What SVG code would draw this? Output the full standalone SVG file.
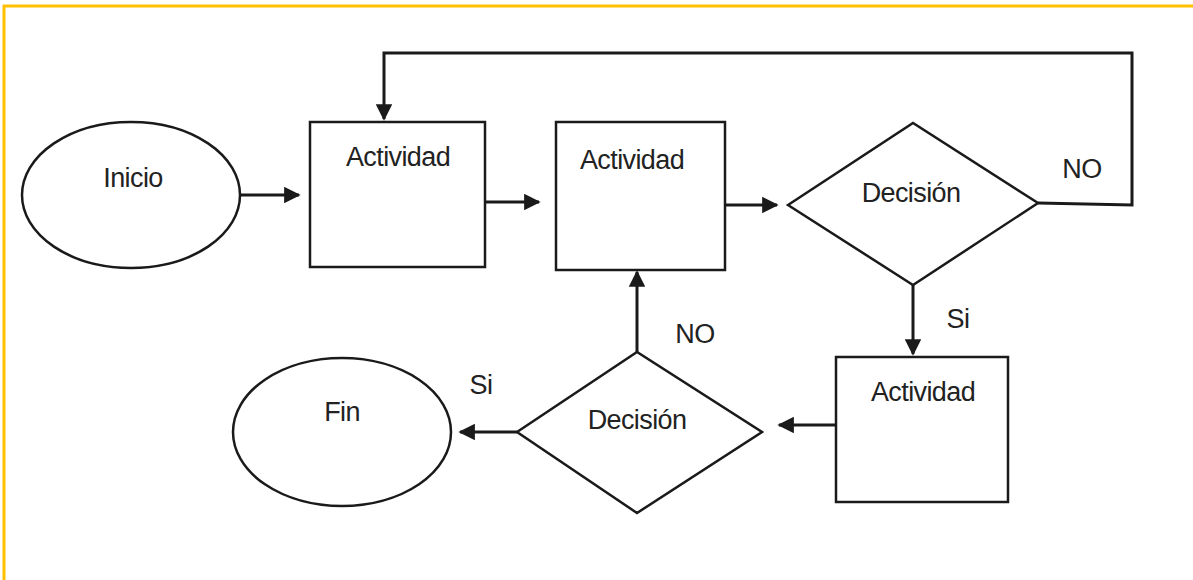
<svg xmlns="http://www.w3.org/2000/svg" width="1193" height="580" viewBox="0 0 1193 580">
  <style>
    .shape { fill: #fff; stroke: #1a1a1a; stroke-width: 2.5; }
    .edge { fill: none; stroke: #1a1a1a; stroke-width: 3; }
    .label { font-family: "Liberation Sans", Arial, sans-serif; font-size: 27px; letter-spacing: -0.6px; fill: #222; text-anchor: middle; }
  </style>
  <defs>
    <marker id="arrow" viewBox="0 0 10 10" refX="9" refY="5" markerWidth="5.5" markerHeight="5.5" orient="auto" markerUnits="strokeWidth">
      <path d="M0,0 L10,5 L0,10 z" fill="#1a1a1a"/>
    </marker>
  </defs>

  <!-- frame -->
  <rect x="4" y="6" width="1200" height="600" fill="#fff" stroke="#ffc000" stroke-width="3"/>

  <!-- connectors -->
  <g id="connectors">
    <line class="edge" x1="241" y1="195" x2="299" y2="195" marker-end="url(#arrow)"/>
    <line class="edge" x1="485" y1="202" x2="539" y2="202" marker-end="url(#arrow)"/>
    <line class="edge" x1="722" y1="205" x2="777" y2="205" marker-end="url(#arrow)"/>
    <polyline class="edge" points="1038,203 1132,205 1132,53 384,53 384,119" marker-end="url(#arrow)"/>
    <line class="edge" x1="913" y1="285" x2="913" y2="354" marker-end="url(#arrow)"/>
    <line class="edge" x1="836" y1="425" x2="779" y2="425" marker-end="url(#arrow)"/>
    <line class="edge" x1="637" y1="352" x2="637" y2="272" marker-end="url(#arrow)"/>
    <line class="edge" x1="517" y1="432" x2="460" y2="432" marker-end="url(#arrow)"/>
  </g>

  <g id="inicio">
    <ellipse class="shape" cx="131" cy="195" rx="109" ry="73"/>
    <text class="label" x="133" y="187">Inicio</text>
  </g>

  <g id="actividad-1">
    <rect class="shape" x="310" y="122" width="175" height="145"/>
    <text class="label" x="398" y="166">Actividad</text>
  </g>

  <g id="actividad-2">
    <rect class="shape" x="556" y="122" width="169" height="148"/>
    <text class="label" x="632" y="169">Actividad</text>
  </g>

  <g id="decision-1">
    <polygon class="shape" points="788,205 913,123 1038,203 913,285"/>
    <text class="label" x="911" y="202">Decisión</text>
    <text class="label" x="1082" y="178">NO</text>
    <text class="label" x="958" y="328">Si</text>
  </g>

  <g id="actividad-3">
    <rect class="shape" x="836" y="357" width="172" height="145"/>
    <text class="label" x="923" y="401">Actividad</text>
  </g>

  <g id="decision-2">
    <polygon class="shape" points="517,432 637,352 762,432 637,513"/>
    <text class="label" x="637" y="429">Decisión</text>
    <text class="label" x="695" y="343">NO</text>
    <text class="label" x="481" y="394">Si</text>
  </g>

  <g id="fin">
    <ellipse class="shape" cx="342" cy="432" rx="109" ry="74"/>
    <text class="label" x="342" y="421">Fin</text>
  </g>
</svg>
